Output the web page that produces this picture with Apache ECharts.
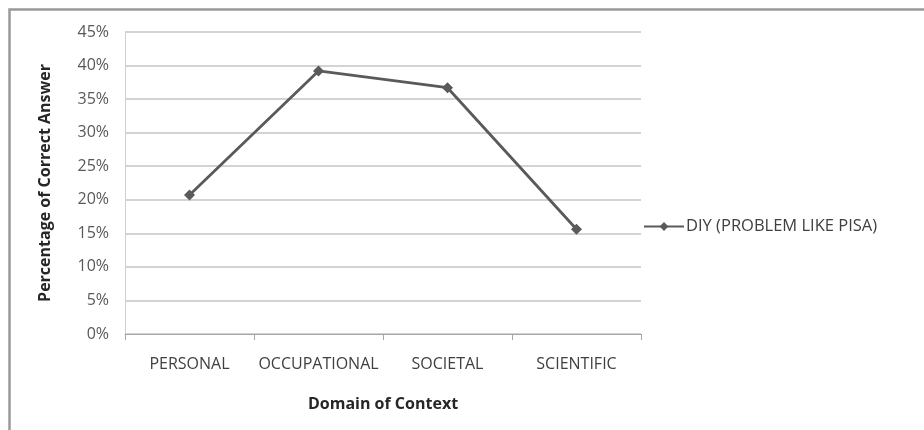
<!DOCTYPE html>
<html>
<head>
<meta charset="utf-8">
<script src="https://cdn.jsdelivr.net/npm/echarts@6/dist/echarts.min.js"></script>
<style>html,body{margin:0;padding:0;background:#fff}#c{width:924px;height:430px}</style>
</head>
<body>
<div id="c"></div>
<script>
const categories = ['PERSONAL', 'OCCUPATIONAL', 'SOCIETAL', 'SCIENTIFIC'];
const seriesName = 'DIY (PROBLEM LIKE PISA)';
const values = [20.7, 39.2, 36.7, 15.6];
const yTicks = [0, 5, 10, 15, 20, 25, 30, 35, 40, 45];

const chart = echarts.init(document.getElementById('c'), null, {renderer: 'canvas'});
const font = '"Open Sans", sans-serif';
chart.setOption({
  backgroundColor: '#fff',
  animation: false,
  graphic: [
    {type: 'rect', shape: {x: 9.5, y: 9.5, width: 1000, height: 1000}, style: {fill: 'none', stroke: '#999999', lineWidth: 2.5}, silent: true}
  ],
  grid: {left: 125, top: 32, right: 283, bottom: 96, containLabel: false},
  legend: {
    left: 638, top: 213, orient: 'vertical',
    itemWidth: 40, itemHeight: 11, itemGap: 4,
    textStyle: {fontFamily: font, fontSize: 16.5, color: '#404040', padding: [0,0,0,-3]},
    data: [seriesName]
  },
  xAxis: {
    type: 'category', data: categories, boundaryGap: true,
    axisLine: {lineStyle: {color: '#a6a6a6', width: 1}},
    axisTick: {show: true, alignWithLabel: false, length: 6, lineStyle: {color: '#a6a6a6'}},
    axisLabel: {fontFamily: font, fontSize: 16, color: '#404040', margin: 22, interval: 0},
    name: 'Domain of Context', nameLocation: 'middle', nameGap: 62,
    nameTextStyle: {fontFamily: font, fontSize: 16, fontWeight: 'bold', color: '#262626'}
  },
  yAxis: {
    type: 'value', min: yTicks[0], max: yTicks[yTicks.length - 1], interval: 5,
    axisLine: {show: true, lineStyle: {color: '#d0d0d0', width: 1}},
    axisTick: {show: false},
    splitLine: {lineStyle: {color: '#c4c4c4', width: 1.5}},
    axisLabel: {fontFamily: font, fontSize: 16, color: '#595959', margin: 16, formatter: '{value}%'},
    name: 'Percentage of Correct Answer', nameLocation: 'middle', nameGap: 72,
    nameTextStyle: {fontFamily: font, fontSize: 16, fontWeight: 'bold', color: '#262626'}
  },
  series: [{
    name: seriesName, type: 'line', data: values,
    symbol: 'diamond', symbolSize: 11,
    lineStyle: {color: '#5a5a5a', width: 2.8},
    itemStyle: {color: '#5a5a5a'}
  }]
});
</script>
</body>
</html>
